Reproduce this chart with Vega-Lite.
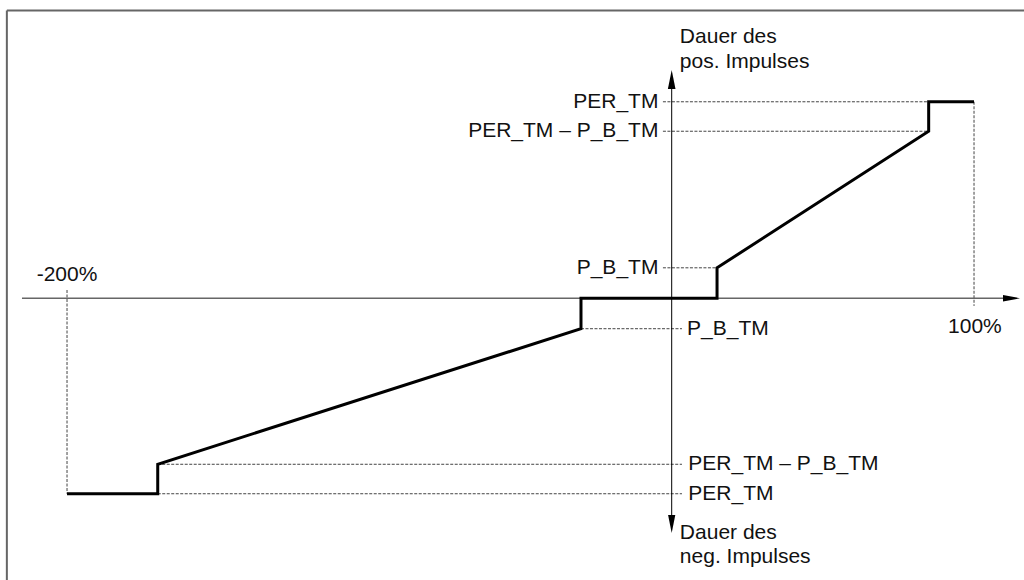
{
  "$schema": "https://vega.github.io/schema/vega-lite/v6.json",
  "width": 1024,
  "height": 580,
  "autosize": {"type": "none"},
  "padding": 0,
  "background": "white",
  "config": {"view": {"stroke": null}, "font": "Liberation Sans"},
  "datasets": {
    "frame": [
      {"x": -219.9, "y": 146.4, "x2": 116.53, "y2": 146.4},
      {"x": -219.9, "y": 146.4, "x2": -219.9, "y2": -143.4}
    ],
    "haxis": [
      {"x": -214.9, "y": 0, "x2": 109.8, "y2": 0}
    ],
    "vaxis": [
      {"x": 0, "y": 106.5, "x2": 0, "y2": -111.3}
    ],
    "guides": [
      {"x": -2.9, "y": 100, "x2": 85, "y2": 100},
      {"x": -2.9, "y": 85, "x2": 85, "y2": 85},
      {"x": -2.9, "y": 15.5, "x2": 15, "y2": 15.5},
      {"x": -30, "y": -15.5, "x2": 3.4, "y2": -15.5},
      {"x": -170, "y": -84.5, "x2": 3.4, "y2": -84.5},
      {"x": -170, "y": -99.5, "x2": 3.4, "y2": -99.5},
      {"x": -200, "y": 4.2, "x2": -200, "y2": -99.5},
      {"x": 100, "y": 100, "x2": 100, "y2": -3.9}
    ],
    "curve": [
      {"i": 1, "x": -200, "y": -99.5},
      {"i": 2, "x": -170, "y": -99.5},
      {"i": 3, "x": -170, "y": -84.5},
      {"i": 4, "x": -30, "y": -15.5},
      {"i": 5, "x": -30, "y": 0},
      {"i": 6, "x": 15, "y": 0},
      {"i": 7, "x": 15, "y": 15.5},
      {"i": 8, "x": 85, "y": 85},
      {"i": 9, "x": 85, "y": 100},
      {"i": 10, "x": 100, "y": 100}
    ],
    "labels": [
      {"x": 2.7, "y": 133, "t": "Dauer des", "a": "left"},
      {"x": 2.7, "y": 120.2, "t": "pos. Impulses", "a": "left"},
      {"x": -4.4, "y": 100, "t": "PER_TM", "a": "right"},
      {"x": -4.4, "y": 85, "t": "PER_TM – P_B_TM", "a": "right"},
      {"x": -4.4, "y": 15.5, "t": "P_B_TM", "a": "right"},
      {"x": -200, "y": 11.9, "t": "-200%", "a": "center"},
      {"x": 100.3, "y": -14.6, "t": "100%", "a": "center"},
      {"x": 5.1, "y": -15.5, "t": "P_B_TM", "a": "left"},
      {"x": 5.5, "y": -84.5, "t": "PER_TM – P_B_TM", "a": "left"},
      {"x": 5.5, "y": -99.5, "t": "PER_TM", "a": "left"},
      {"x": 2.7, "y": -119.5, "t": "Dauer des", "a": "left"},
      {"x": 2.7, "y": -131.7, "t": "neg. Impulses", "a": "left"}
    ]
  },
  "encoding": {
    "x": {"field": "x", "type": "quantitative", "scale": {"domain": [-222.17, 116.53], "nice": false, "zero": false}, "axis": null},
    "y": {"field": "y", "type": "quantitative", "scale": {"domain": [-143.4, 151.8], "nice": false, "zero": false}, "axis": null}
  },
  "layer": [
    {
      "data": {"name": "frame"},
      "mark": {"type": "rule", "color": "#666666", "strokeWidth": 2},
      "encoding": {"x2": {"field": "x2"}, "y2": {"field": "y2"}}
    },
    {
      "data": {"name": "guides"},
      "mark": {"type": "rule", "color": "#444444", "strokeWidth": 1, "strokeDash": [3, 1.5]},
      "encoding": {"x2": {"field": "x2"}, "y2": {"field": "y2"}}
    },
    {
      "data": {"name": "haxis"},
      "mark": {"type": "rule", "color": "#666666", "strokeWidth": 1.5},
      "encoding": {"x2": {"field": "x2"}, "y2": {"field": "y2"}}
    },
    {
      "data": {"name": "vaxis"},
      "mark": {"type": "rule", "color": "#000000", "strokeWidth": 1},
      "encoding": {"x2": {"field": "x2"}, "y2": {"field": "y2"}}
    },
    {
      "data": {"values": [{"x": 0, "y": 111.3}]},
      "mark": {"type": "point", "shape": "M0,-1L-0.4,1L0.4,1Z", "size": 361, "filled": true, "color": "#000000", "opacity": 1}
    },
    {
      "data": {"values": [{"x": 0, "y": -114.9}]},
      "mark": {"type": "point", "shape": "M0,1L-0.4,-1L0.4,-1Z", "size": 324, "filled": true, "color": "#000000", "opacity": 1}
    },
    {
      "data": {"values": [{"x": 112.4, "y": 0}]},
      "mark": {"type": "point", "shape": "M1,0L-1,-0.38L-1,0.38Z", "size": 289, "filled": true, "color": "#000000", "opacity": 1}
    },
    {
      "data": {"name": "curve"},
      "mark": {"type": "line", "color": "#000000", "strokeWidth": 3, "strokeJoin": "miter", "strokeCap": "butt"},
      "encoding": {"order": {"field": "i", "type": "quantitative"}}
    },
    {
      "data": {"name": "labels"},
      "transform": [{"filter": "datum.a === 'left'"}],
      "mark": {"type": "text", "align": "left", "baseline": "middle", "fontSize": 21, "color": "#111111"},
      "encoding": {"text": {"field": "t"}}
    },
    {
      "data": {"name": "labels"},
      "transform": [{"filter": "datum.a === 'right'"}],
      "mark": {"type": "text", "align": "right", "baseline": "middle", "fontSize": 21, "color": "#111111"},
      "encoding": {"text": {"field": "t"}}
    },
    {
      "data": {"name": "labels"},
      "transform": [{"filter": "datum.a === 'center'"}],
      "mark": {"type": "text", "align": "center", "baseline": "middle", "fontSize": 21, "color": "#111111"},
      "encoding": {"text": {"field": "t"}}
    }
  ]
}
